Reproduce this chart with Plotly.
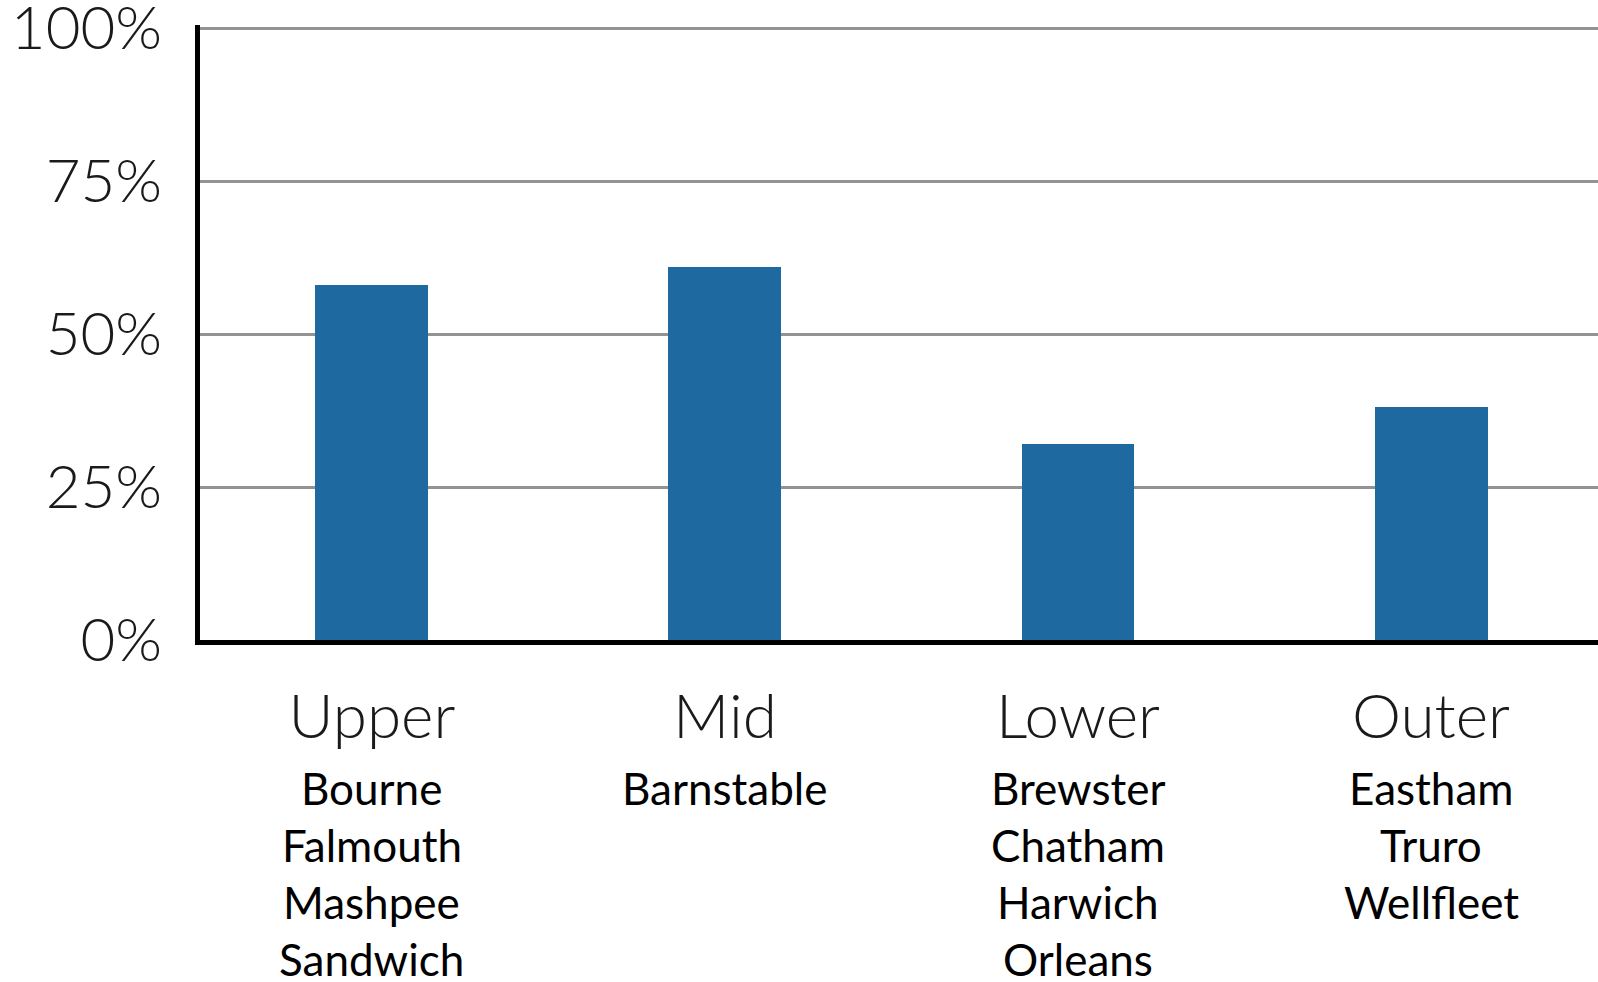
import plotly.graph_objects as go

# Regions of Cape Cod and the share for each
regions = ["Upper", "Mid", "Lower", "Outer"]
shares = [58, 61, 32, 38]
towns = [
    ["Bourne", "Falmouth", "Mashpee", "Sandwich"],
    ["Barnstable"],
    ["Brewster", "Chatham", "Harwich", "Orleans"],
    ["Eastham", "Truro", "Wellfleet"],
]
y_ticks = [0, 25, 50, 75, 100]
y_tick_labels = ["0%", "25%", "50%", "75%", "100%"]

BAR_COLOR = "#1e6aa0"
TICK_FONT = dict(family="Lato", size=60, color="#1a1a1a", weight=300)
REGION_FONT = dict(family="Lato", size=62, color="#1a1a1a", weight=300)
TOWN_FONT = dict(family="Lato", size=44, color="#000000")

fig = go.Figure(
    go.Bar(
        x=list(range(len(regions))),
        y=shares,
        width=0.32,
        marker=dict(color=BAR_COLOR, line=dict(width=0)),
        hoverinfo="skip",
    )
)

# Town lists stacked under each region name
town_top = -148
town_step = 57
for i, names in enumerate(towns):
    for j, name in enumerate(names):
        fig.add_annotation(
            x=i, xref="x", y=0, yref="paper",
            yanchor="middle", xanchor="center",
            yshift=town_top - j * town_step,
            text=name, showarrow=False, font=TOWN_FONT,
        )

fig.update_layout(
    width=1598, height=982,
    margin=dict(l=200, r=0, t=25, b=342),
    paper_bgcolor="white", plot_bgcolor="white",
    showlegend=False,
    bargap=0,
)
fig.update_xaxes(
    range=[-0.487, 3.473],
    tickmode="array", tickvals=list(range(len(regions))), ticktext=regions,
    tickfont=REGION_FONT,
    showline=True, linecolor="#000000", linewidth=5,
    showgrid=False, zeroline=False,
    ticks="", ticklabelstandoff=19, automargin=False,
)
fig.update_yaxes(
    range=[0, 100.5],
    tickmode="array", tickvals=y_ticks, ticktext=y_tick_labels,
    tickfont=TICK_FONT,
    showline=True, linecolor="#000000", linewidth=5,
    showgrid=True, gridcolor="#939393", gridwidth=2.5,
    zeroline=False,
    ticks="", ticklabelstandoff=21, ticklabeloverflow="allow",
    automargin=False,
)

fig.write_html("out.html")
